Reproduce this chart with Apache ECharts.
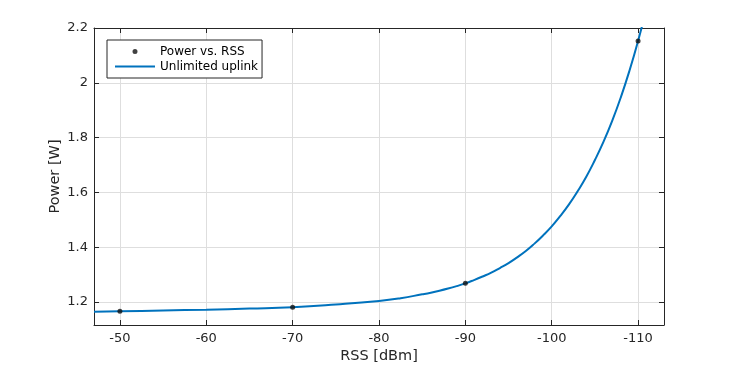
<!DOCTYPE html>
<html>
<head>
<meta charset="utf-8">
<script src="https://cdn.jsdelivr.net/npm/echarts@6/dist/echarts.min.js"></script>
<style>html,body{margin:0;padding:0;background:#fff;}#c{width:734px;height:367px;}</style>
</head>
<body>
<div id="c"></div>
<script>
// Measured points (RSS [dBm], Power [W])
const pointRss = [-50, -70, -90, -110];
const pointPower = [1.166, 1.181, 1.268, 2.153];
// Curve
const curveRss = [-47, -50, -55, -60, -65, -70, -75, -80, -82.5, -85, -86, -87, -88, -89, -90, -91, -92, -93, -94, -95, -96, -97, -98, -99, -100, -101, -102, -103, -104, -105, -106, -107, -108, -109, -110, -111];
const curvePower = [1.164, 1.166, 1.169, 1.172, 1.176, 1.181, 1.191, 1.204, 1.214, 1.228, 1.234, 1.241, 1.249, 1.258, 1.268, 1.280, 1.293, 1.307, 1.324, 1.342, 1.363, 1.386, 1.413, 1.443, 1.476, 1.514, 1.556, 1.604, 1.657, 1.718, 1.785, 1.861, 1.947, 2.044, 2.153, 2.275];
const seriesNames = ['Power vs. RSS', 'Unlimited uplink'];

const txt = '#262626';
const font = 'DejaVu Sans';
const chart = echarts.init(document.getElementById('c'), null, {renderer: 'canvas'});
const dotIcon = 'path://M0,0h0.01v0.01h-0.01z M40,13h-0.01v-0.01h0.01z M17.5,6.5a2.5,2.5 0 1,0 5,0a2.5,2.5 0 1,0 -5,0z';
const lineIcon = 'path://M0,0h0.01v0.01h-0.01z M40,13h-0.01v-0.01h0.01z M0,5.5h40v2h-40z';

const baseX = {
  type: 'value', min: -113, max: -47, inverse: true,
  axisLine: {show: true, lineStyle: {color: txt, width: 1}},
  axisTick: {show: true, inside: true, length: 5, lineStyle: {color: txt}},
  splitLine: {show: false}
};
const baseY = {
  type: 'value', min: 1.116, max: 2.2,
  axisLine: {show: true, lineStyle: {color: txt, width: 1}},
  axisTick: {show: true, inside: true, length: 5, lineStyle: {color: txt}},
  splitLine: {show: false}
};

chart.setOption({
  animation: false,
  backgroundColor: '#fff',
  grid: {left: 94, right: 70, top: 28, bottom: 42, containLabel: false, outerBoundsMode: 'none'},
  legend: {
    orient: 'vertical', left: 107, top: 40,
    padding: [5, 4, 5, 8], itemGap: 2, itemWidth: 40, itemHeight: 13,
    backgroundColor: '#fff', borderColor: txt, borderWidth: 1, borderRadius: 0,
    textStyle: {fontFamily: font, fontSize: 12, color: '#000', lineHeight: 13},
    data: [
      {name: seriesNames[0], icon: dotIcon, itemStyle: {color: '#111'}},
      {name: seriesNames[1], icon: lineIcon, itemStyle: {color: '#0072BD'}}
    ]
  },
  xAxis: [
    Object.assign({}, baseX, {
      position: 'bottom',
      name: 'RSS [dBm]', nameLocation: 'middle', nameGap: 24, nameMoveOverlap: false,
      nameTextStyle: {fontFamily: font, fontSize: 14.5, color: txt},
      axisLabel: {show: true, margin: 7, fontFamily: font, fontSize: 13, color: txt, showMinLabel: false, showMaxLabel: false},
      splitLine: {show: true, lineStyle: {color: '#dedede', width: 1}}
    }),
    Object.assign({}, baseX, {position: 'top', axisLabel: {show: false}})
  ],
  yAxis: [
    Object.assign({}, baseY, {
      position: 'left',
      name: 'Power [W]', nameLocation: 'middle', nameGap: 31, nameMoveOverlap: false,
      nameTextStyle: {fontFamily: font, fontSize: 14.5, color: txt},
      axisLabel: {show: true, margin: 6, fontFamily: font, fontSize: 13, color: txt, showMinLabel: false},
      splitLine: {show: true, lineStyle: {color: '#dedede', width: 1}}
    }),
    Object.assign({}, baseY, {position: 'right', axisLabel: {show: false}})
  ],
  series: [
    {
      name: seriesNames[0], type: 'scatter', xAxisIndex: 0, yAxisIndex: 0,
      symbol: 'circle', symbolSize: 5, z: 3,
      itemStyle: {color: '#111'},
      data: pointRss.map((x, i) => [x, pointPower[i]])
    },
    {
      name: seriesNames[1], type: 'line', xAxisIndex: 0, yAxisIndex: 0,
      smooth: 0.5, showSymbol: false, symbol: 'none', clip: true, z: 2,
      lineStyle: {color: '#0072BD', width: 2},
      itemStyle: {color: '#0072BD'},
      data: curveRss.map((x, i) => [x, curvePower[i]])
    }
  ]
});
</script>
</body>
</html>
